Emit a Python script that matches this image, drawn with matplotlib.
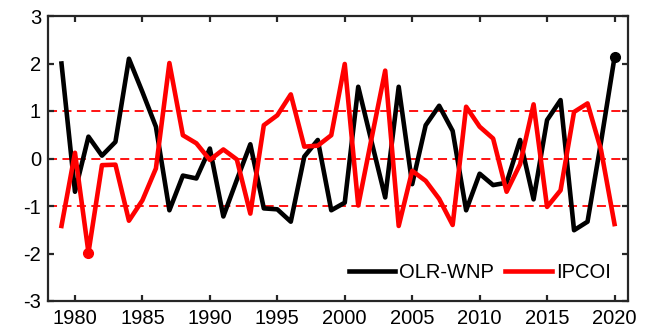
import matplotlib
matplotlib.use('Agg')
import matplotlib.pyplot as plt
import numpy as np

years = np.arange(1979, 2021)
olr_wnp = [2.0, -0.70, 0.46, 0.06, 0.35, 2.1, 1.4, 0.67, -1.09, -0.36,
           -0.42, 0.21, -1.22, -0.45, 0.30, -1.05, -1.07, -1.33, 0.04, 0.39,
           -1.09, -0.93, 1.51, 0.34, -0.82, 1.51, -0.54, 0.70, 1.11, 0.58,
           -1.09, -0.32, -0.56, -0.51, 0.39, -0.86, 0.81, 1.23, -1.51, -1.33,
           0.35, 2.13]
ipcoi = [-1.42, 0.12, -1.98, -0.14, -0.13, -1.31, -0.88, -0.21, 2.01, 0.49,
         0.32, -0.03, 0.19, -0.02, -1.16, 0.70, 0.91, 1.35, 0.25, 0.27,
         0.49, 1.99, -0.99, 0.44, 1.85, -1.42, -0.26, -0.47, -0.85, -1.40,
         1.09, 0.67, 0.42, -0.70, -0.12, 1.14, -1.02, -0.67, 0.98, 1.16,
         0.18, -1.38]
ref_levels = [-1, 0, 1]

plt.rcParams['font.family'] = ['Liberation Sans', 'DejaVu Sans']
plt.rcParams['font.size'] = 14.5
plt.rcParams['axes.unicode_minus'] = False

fig = plt.figure(figsize=(6.5, 3.36), dpi=100)
ax = fig.add_axes([48 / 650, 1 - 301 / 336, 580 / 650, 285 / 336])

for lev in ref_levels:
    ax.axhline(lev, color='red', lw=1.3, dashes=(5, 3), zorder=1)

ax.plot(years, olr_wnp, color='black', lw=3.3, label='OLR-WNP', zorder=2)
ax.plot(years, ipcoi, color='red', lw=3.3, label='IPCOI', zorder=3)
ax.plot(years[2], ipcoi[2], 'o', color='red', ms=7, zorder=3)
ax.plot(years[-1], olr_wnp[-1], 'o', color='black', ms=7, zorder=4)

ax.set_xlim(1978, 2021)
ax.set_ylim(-3, 3)
ax.set_xticks(np.arange(1980, 2021, 5))
ax.set_yticks(np.arange(-3, 4, 1))

for s in ax.spines.values():
    s.set_linewidth(1.6)
    s.set_color('#262626')
ax.tick_params(direction='in', top=True, right=True, length=4, width=1.6,
               color='#262626', labelsize=14.5)
ax.tick_params(axis='x', pad=6)
ax.tick_params(axis='y', pad=5)

ax.legend(loc='center right', bbox_to_anchor=(0.97, 0.1), ncol=2,
          frameon=False, handlelength=2.3, handletextpad=0.2,
          columnspacing=0.55, borderaxespad=0, borderpad=0, fontsize=14.5)

fig.savefig('out.png', dpi=100)
